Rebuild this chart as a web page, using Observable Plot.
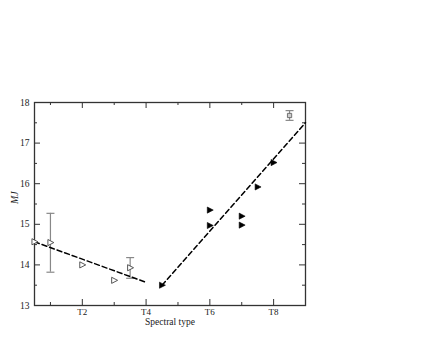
<!DOCTYPE html>
<html><head><meta charset="utf-8">
<script src="https://cdn.jsdelivr.net/npm/d3@7"></script>
<script src="https://cdn.jsdelivr.net/npm/@observablehq/plot@0.6"></script>
<style>body{margin:0;background:#fff}</style>
</head><body><div id="chart"></div>
<script>
const xMajor = [2, 4, 6, 8];
const xMinor = [1, 3, 5, 7];
const yMajor = [13, 14, 15, 16, 17, 18];
const yMinor = [13.5, 14.5, 15.5, 16.5, 17.5];

const openX = [0.5, 1, 2, 3, 3.5];
const openY = [14.57, 14.55, 14.0, 13.62, 13.93];
const filledX = [4.5, 6, 6, 7, 7, 7.5, 8];
const filledY = [13.5, 15.35, 14.97, 15.2, 14.98, 15.92, 16.52];
const squareX = [8.5];
const squareY = [17.68];
const errX = [1, 3.5, 8.5];
const errLo = [13.82, 13.67, 17.56];
const errHi = [15.27, 14.18, 17.8];
const fit1X = [0.5, 4];
const fit1Y = [14.57, 13.57];
const fit2X = [4.5, 9];
const fit2Y = [13.5, 17.5];

const W = 440, H = 340, mL = 34, mR = 135, mT = 102, mB = 35;
const pw = W - mL - mR, ph = H - mT - mB;

const triRight = {draw(ctx, size) {
  const r = Math.sqrt(size / Math.PI);
  ctx.moveTo(r, 0); ctx.lineTo(-r * 0.75, -r * 0.9); ctx.lineTo(-r * 0.75, r * 0.9); ctx.closePath();
}};
const hLine = {draw(ctx, size) {
  const r = Math.sqrt(size / Math.PI);
  ctx.moveTo(-r, 0); ctx.lineTo(r, 0);
}};

const pts = (xs, ys) => xs.map((x, i) => ({x, y: ys[i]}));
const errs = errX.map((x, i) => ({x, lo: errLo[i], hi: errHi[i]}));
const caps = errs.flatMap(d => [{x: d.x, y: d.lo}, {x: d.x, y: d.hi}]);
const tickCol = "#333";

const chart = Plot.plot({
  width: W, height: H,
  marginLeft: mL, marginRight: mR, marginTop: mT, marginBottom: mB,
  x: {domain: [0.5, 9]},
  y: {domain: [13, 18]},
  style: {fontFamily: "'Liberation Serif', serif", fontSize: "9px", background: "white", color: "#222"},
  marks: [
    Plot.tickX(xMajor, {x: d => d, insetTop: ph - 6, stroke: tickCol}),
    Plot.tickX(xMinor, {x: d => d, insetTop: ph - 3, stroke: tickCol}),
    Plot.tickX(xMajor, {x: d => d, insetBottom: ph - 6, stroke: tickCol}),
    Plot.tickX(xMinor, {x: d => d, insetBottom: ph - 3, stroke: tickCol}),
    Plot.tickY(yMajor, {y: d => d, insetRight: pw - 6, stroke: tickCol}),
    Plot.tickY(yMinor, {y: d => d, insetRight: pw - 3, stroke: tickCol}),
    Plot.tickY(yMajor, {y: d => d, insetLeft: pw - 6, stroke: tickCol}),
    Plot.tickY(yMinor, {y: d => d, insetLeft: pw - 3, stroke: tickCol}),
    Plot.frame({stroke: "#333", strokeWidth: 1.3}),
    Plot.axisY({ticks: yMajor, tickSize: 0, tickPadding: 5, tickFormat: d => String(d), label: null, fontSize: 9.5}),
    Plot.axisX({ticks: xMajor, tickSize: 0, tickPadding: 3, tickFormat: d => "T" + d, label: null, fontSize: 9}),
    Plot.ruleX(errs, {x: "x", y1: "lo", y2: "hi", stroke: "#888", strokeWidth: 1.2}),
    Plot.dot(caps, {x: "x", y: "y", symbol: hLine, r: 4, stroke: "#888", strokeWidth: 1.2}),
    Plot.line(pts(fit1X, fit1Y), {x: "x", y: "y", stroke: "black", strokeWidth: 1.5, strokeDasharray: "5,3"}),
    Plot.line(pts(fit2X, fit2Y), {x: "x", y: "y", stroke: "black", strokeWidth: 1.5, strokeDasharray: "5,3"}),
    Plot.dot(pts(openX, openY), {x: "x", y: "y", symbol: triRight, r: 3.4, stroke: "#444", fill: "white", strokeWidth: 0.9}),
    Plot.dot(pts(filledX, filledY), {x: "x", y: "y", symbol: triRight, r: 3.4, stroke: "black", fill: "black", strokeWidth: 0.6}),
    Plot.dot(pts(squareX, squareY), {x: "x", y: "y", symbol: "square", r: 2.4, stroke: "#666", fill: "#ccc", strokeWidth: 0.9}),
    Plot.text(["Spectral type"], {frameAnchor: "bottom", dy: 19.5, fontSize: 9.5, fill: "#222"}),
    Plot.text(["MJ"], {frameAnchor: "left", dx: -20, rotate: -90, fontStyle: "italic", fontSize: 10, fill: "#222"})
  ]
});
document.getElementById("chart").appendChild(chart);
</script>
</body></html>
